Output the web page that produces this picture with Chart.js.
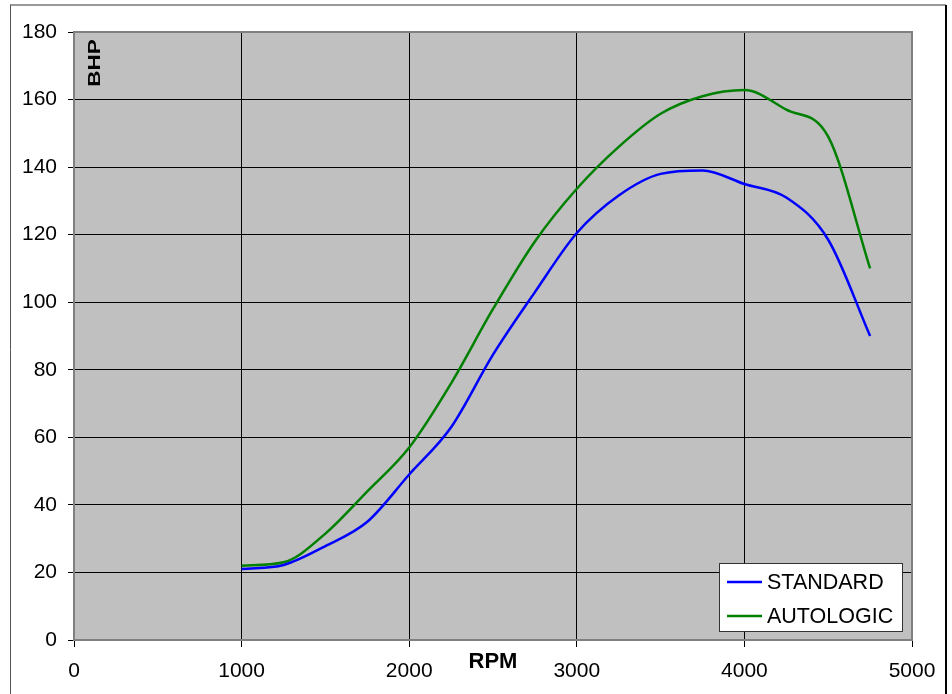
<!DOCTYPE html>
<html>
<head>
<meta charset="utf-8">
<script src="https://cdn.jsdelivr.net/npm/chart.js@4.4.0/dist/chart.umd.min.js"></script>
<style>
  html, body { margin: 0; padding: 0; background: #fff; }
  #wrap { width: 952px; height: 694px; }
</style>
</head>
<body>
<div id="wrap"><canvas id="myChart"></canvas></div>
<script>
var rpm = [1000, 1250, 1500, 1750, 2000, 2250, 2500, 2750, 3000, 3250, 3500, 3750, 4000, 4250, 4500, 4750];
var standard = [21, 22.2, 27.8, 35, 49, 63, 84.5, 103, 120.5, 131.6, 138, 139, 135, 131, 118.5, 90];
var autologic = [22, 23, 31.5, 44, 57, 76, 98, 118, 133.6, 146, 155.8, 161, 162.8, 157, 149, 110];
var xTicks = [0, 1000, 2000, 3000, 4000, 5000];
var yTicks = [0, 20, 40, 60, 80, 100, 120, 140, 160, 180];

function points(ys) {
  return rpm.map(function (r, i) { return {x: r, y: ys[i]}; });
}

var FONT = '"Liberation Sans", Arial, sans-serif';

var decor = {
  id: 'decor',
  beforeDraw: function (chart) {
    var c = chart.ctx, a = chart.chartArea;
    c.save();
    // outer frame
    c.fillStyle = '#fff';
    c.fillRect(0, 0, chart.width, chart.height);
    c.strokeStyle = '#999';
    c.lineWidth = 2;
    c.beginPath(); c.moveTo(10, 5); c.lineTo(946, 5); c.stroke();
    c.strokeStyle = '#555';
    c.lineWidth = 1;
    c.beginPath(); c.moveTo(10.5, 5); c.lineTo(10.5, 694); c.stroke();
    c.strokeStyle = '#000';
    c.lineWidth = 2;
    c.beginPath(); c.moveTo(946, 5); c.lineTo(946, 694); c.stroke();
    // plot background
    c.fillStyle = '#C0C0C0';
    c.fillRect(a.left, a.top, a.right - a.left, a.bottom - a.top);
    c.restore();
  },
  afterDraw: function (chart) {
    var c = chart.ctx, a = chart.chartArea;
    c.save();
    c.strokeStyle = '#808080';
    c.lineWidth = 2;
    c.strokeRect(a.left, a.top, a.right - a.left, a.bottom - a.top);

    // axis titles
    c.fillStyle = '#000';
    c.font = 'bold 22px ' + FONT;
    c.textAlign = 'center';
    c.textBaseline = 'middle';
    c.fillText('RPM', 493, 662);

    c.save();
    c.translate(96, 63);
    c.rotate(-Math.PI / 2);
    c.scale(1.4, 1);
    c.font = 'bold 16px ' + FONT;
    c.fillText('BHP', 0, 0);
    c.restore();

    // legend box
    var lx = 719, ly = 563, lw = 183, lh = 68;
    c.fillStyle = '#fff';
    c.fillRect(lx, ly, lw, lh);
    c.strokeStyle = '#333';
    c.lineWidth = 1;
    c.strokeRect(lx + 0.5, ly + 0.5, lw, lh);
    c.font = '21.5px ' + FONT;
    c.textAlign = 'left';
    chart.data.datasets.forEach(function (ds, i) {
      var y = 582 + i * 34;
      c.strokeStyle = ds.borderColor;
      c.lineWidth = 2.5;
      c.beginPath(); c.moveTo(727, y); c.lineTo(762, y); c.stroke();
      c.fillStyle = '#000';
      c.fillText(ds.label, 767, y + 1);
    });
    c.restore();
  }
};

var ctx = document.getElementById('myChart').getContext('2d');
var myChart = new Chart(ctx, {
  type: 'line',
  data: {
    datasets: [{
      label: 'STANDARD',
      data: points(standard),
      borderColor: '#0000FF',
      backgroundColor: '#0000FF',
      borderWidth: 2.5,
      pointRadius: 0,
      cubicInterpolationMode: 'monotone',
      fill: false
    }, {
      label: 'AUTOLOGIC',
      data: points(autologic),
      borderColor: '#008000',
      backgroundColor: '#008000',
      borderWidth: 2.5,
      pointRadius: 0,
      cubicInterpolationMode: 'monotone',
      fill: false
    }]
  },
  options: {
    responsive: true,
    maintainAspectRatio: false,
    animation: false,
    layout: { padding: { left: 0, top: 32, right: 40, bottom: 0 } },
    plugins: {
      legend: { display: false },
      tooltip: { enabled: false }
    },
    scales: {
      x: {
        type: 'linear',
        min: 0,
        max: 5000,
        afterFit: function (s) { s.height = 54; },
        afterBuildTicks: function (s) { s.ticks = xTicks.map(function (v) { return {value: v}; }); },
        grid: { color: '#000', lineWidth: 1, tickLength: 7, tickColor: '#000' },
        border: { display: false },
        ticks: {
          color: '#000', padding: 12, maxRotation: 0,
          font: { family: FONT, size: 21 },
          callback: function (v) { return String(v); }
        }
      },
      y: {
        min: 0,
        max: 180,
        afterFit: function (s) { s.width = 74; },
        afterBuildTicks: function (s) { s.ticks = yTicks.map(function (v) { return {value: v}; }); },
        grid: { color: '#000', lineWidth: 1, tickLength: 6, tickColor: '#000' },
        border: { display: false },
        ticks: { color: '#000', padding: 11, font: { family: FONT, size: 21 } }
      }
    }
  },
  plugins: [decor]
});
</script>
</body>
</html>
